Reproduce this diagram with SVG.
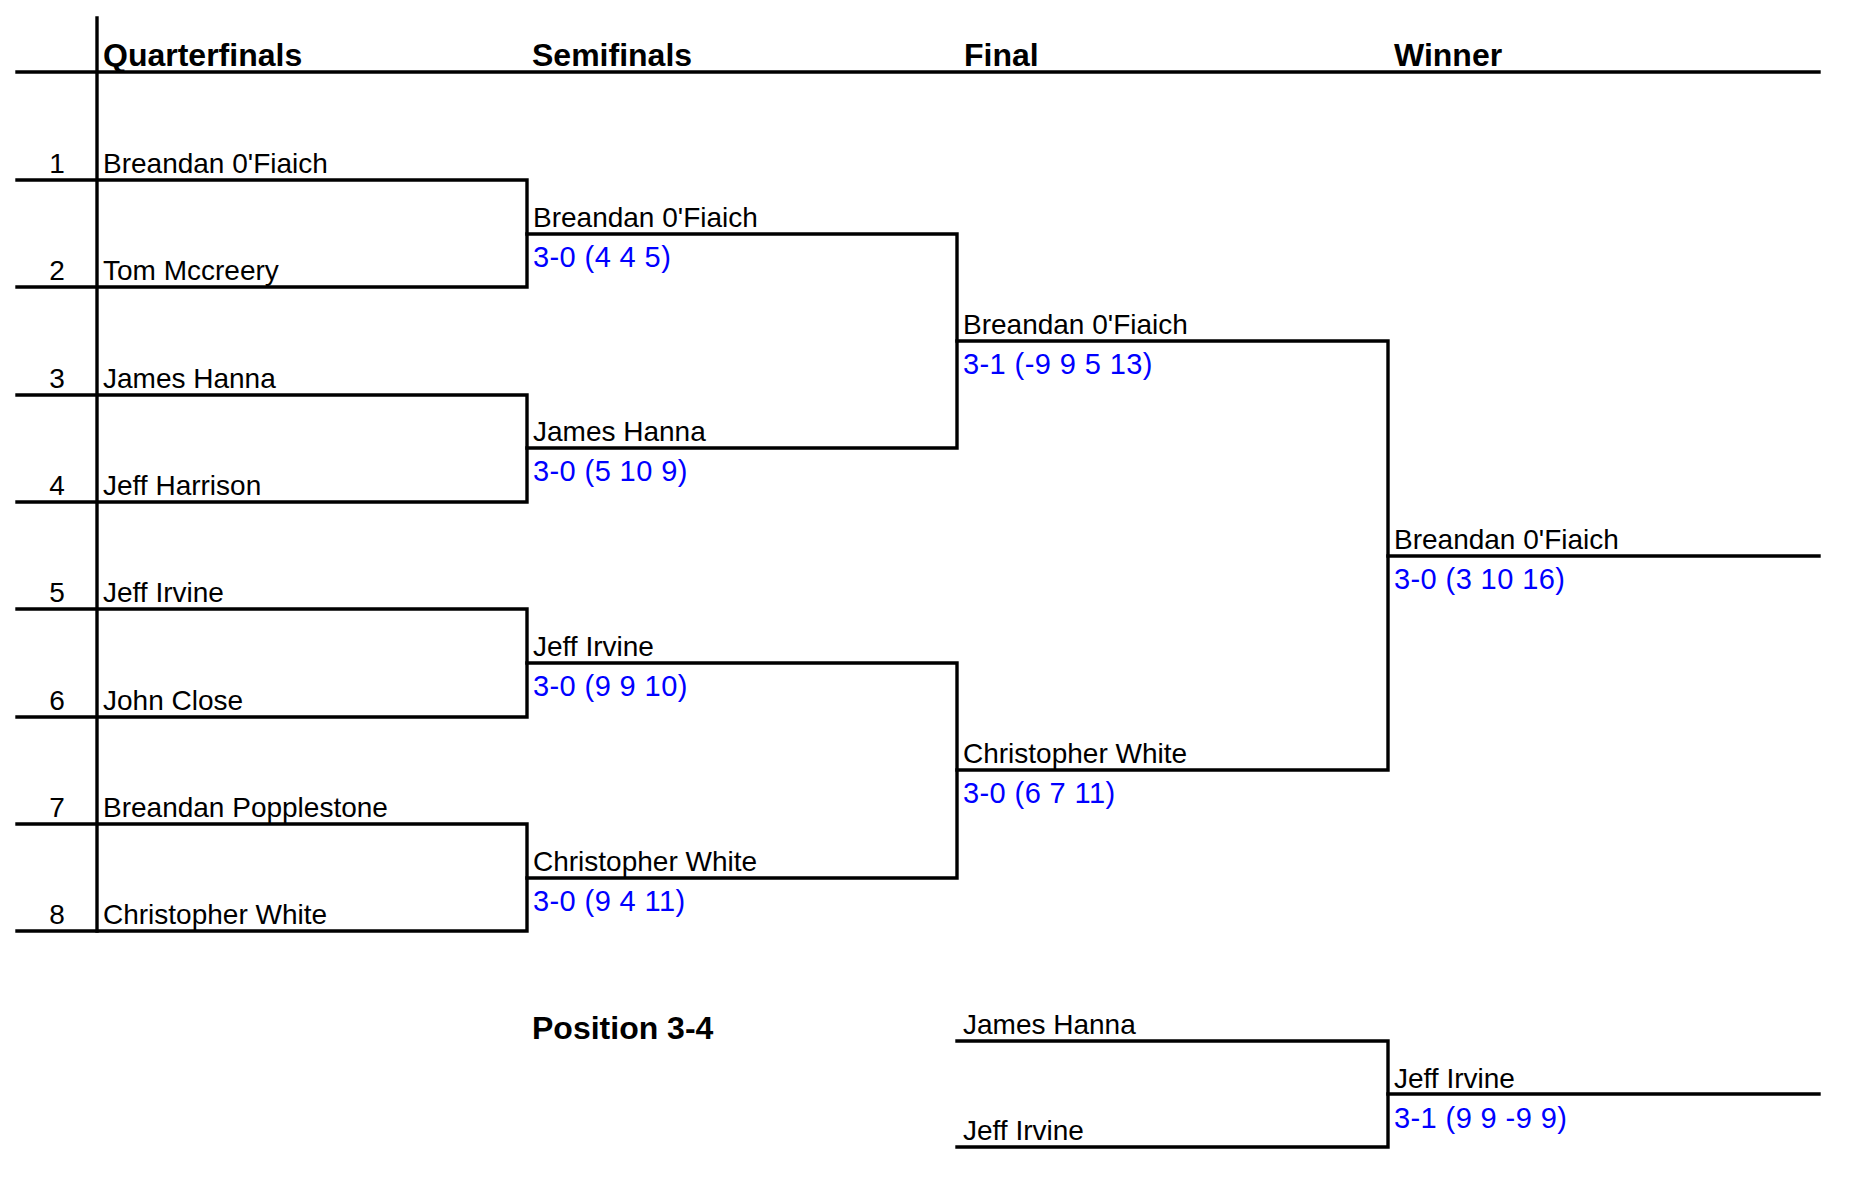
<svg xmlns="http://www.w3.org/2000/svg" width="1856" height="1194" viewBox="0 0 1856 1194">
<style>
.ln{stroke:#000;stroke-width:3.4;fill:none;stroke-linecap:square}
.hd{font-family:"Liberation Sans",Arial,sans-serif;font-weight:bold;font-size:32px;fill:#000}
.nm{font-family:"Liberation Sans",Arial,sans-serif;font-size:28px;fill:#000}
.sc{font-family:"Liberation Sans",Arial,sans-serif;font-size:29px;letter-spacing:0.4px;fill:#0000ff}
.no{font-family:"Liberation Sans",Arial,sans-serif;font-size:28px;fill:#000;text-anchor:middle}
</style>
<rect width="1856" height="1194" fill="#fff"/>
<g id="headers">
<text class="hd" x="103" y="66">Quarterfinals</text>
<text class="hd" x="532" y="66">Semifinals</text>
<text class="hd" x="964" y="66">Final</text>
<text class="hd" x="1394" y="66">Winner</text>
<text class="hd" x="532" y="1039">Position 3-4</text>
</g>
<g id="connectors">
<path class="ln" d="M97 18V931"/>
<path class="ln" d="M17 72H1819"/>
<path class="ln" d="M17 180H527V287H17"/>
<path class="ln" d="M17 395H527V502H17"/>
<path class="ln" d="M17 609H527V717H17"/>
<path class="ln" d="M17 824H527V931H17"/>
<path class="ln" d="M527 234H957V448H527"/>
<path class="ln" d="M527 663H957V878H527"/>
<path class="ln" d="M957 341H1388V770H957"/>
<path class="ln" d="M1388 556H1819"/>
<path class="ln" d="M957 1041H1388V1147H957"/>
<path class="ln" d="M1388 1094H1819"/>
</g>
<g id="qf1"><text class="no" x="57" y="173">1</text><text class="nm" x="103" y="173">Breandan 0'Fiaich</text></g>
<g id="qf2"><text class="no" x="57" y="280">2</text><text class="nm" x="103" y="280">Tom Mccreery</text></g>
<g id="qf3"><text class="no" x="57" y="388">3</text><text class="nm" x="103" y="388">James Hanna</text></g>
<g id="qf4"><text class="no" x="57" y="495">4</text><text class="nm" x="103" y="495">Jeff Harrison</text></g>
<g id="qf5"><text class="no" x="57" y="602">5</text><text class="nm" x="103" y="602">Jeff Irvine</text></g>
<g id="qf6"><text class="no" x="57" y="710">6</text><text class="nm" x="103" y="710">John Close</text></g>
<g id="qf7"><text class="no" x="57" y="817">7</text><text class="nm" x="103" y="817">Breandan Popplestone</text></g>
<g id="qf8"><text class="no" x="57" y="924">8</text><text class="nm" x="103" y="924">Christopher White</text></g>
<g id="sf1"><text class="nm" x="533" y="227">Breandan 0'Fiaich</text><text class="sc" x="533" y="267">3-0 (4 4 5)</text></g>
<g id="sf2"><text class="nm" x="533" y="441">James Hanna</text><text class="sc" x="533" y="481">3-0 (5 10 9)</text></g>
<g id="sf3"><text class="nm" x="533" y="656">Jeff Irvine</text><text class="sc" x="533" y="696">3-0 (9 9 10)</text></g>
<g id="sf4"><text class="nm" x="533" y="871">Christopher White</text><text class="sc" x="533" y="911">3-0 (9 4 11)</text></g>
<g id="f1"><text class="nm" x="963" y="334">Breandan 0'Fiaich</text><text class="sc" x="963" y="374">3-1 (-9 9 5 13)</text></g>
<g id="f2"><text class="nm" x="963" y="763">Christopher White</text><text class="sc" x="963" y="803">3-0 (6 7 11)</text></g>
<g id="w1"><text class="nm" x="1394" y="549">Breandan 0'Fiaich</text><text class="sc" x="1394" y="589">3-0 (3 10 16)</text></g>
<g id="p1"><text class="nm" x="963" y="1034">James Hanna</text></g>
<g id="p2"><text class="nm" x="963" y="1140">Jeff Irvine</text></g>
<g id="p3"><text class="nm" x="1394" y="1088">Jeff Irvine</text><text class="sc" x="1394" y="1128">3-1 (9 9 -9 9)</text></g>
</svg>
